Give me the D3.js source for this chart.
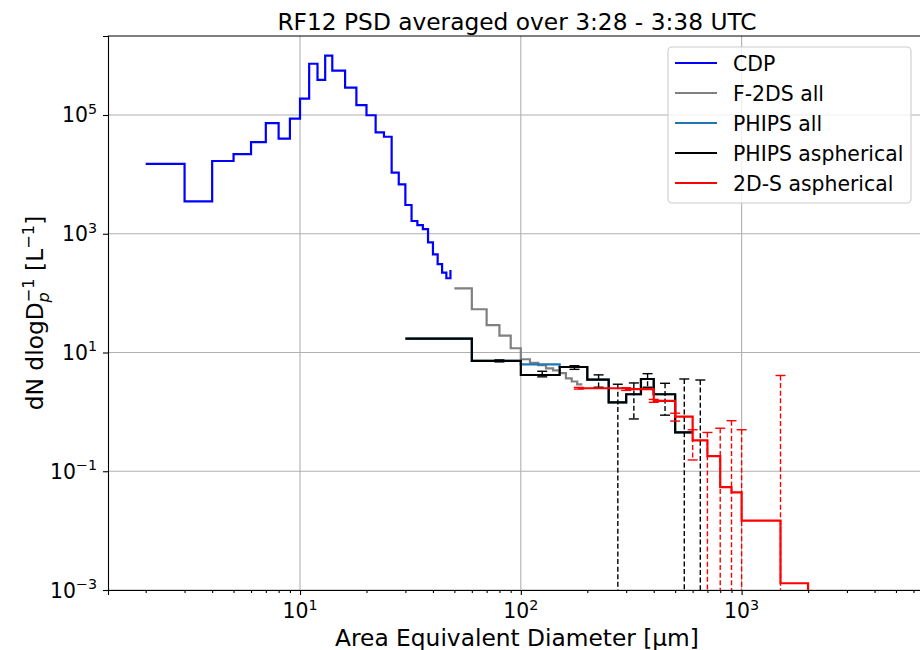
<!DOCTYPE html>
<html><head><meta charset="utf-8">
<script src="https://cdn.jsdelivr.net/npm/d3@7"></script>
<style>
body{margin:0;background:#fff}
svg{display:block}
text{font-family:"DejaVu Sans",sans-serif;fill:#000}
</style>
</head><body>
<svg id="chart" width="920" height="650"></svg>
<script>
// ---------------- data ----------------
const cdpD = [2,3,4,5,6,7,8,9,10,11,12,13,14,16,18,20,22,24,26,28,30,32,34,36,38,40,42,44,46,48];
const cdpN = [1.5e4,3.5e3,1.68e4,2.2e4,3.5e4,7.3e4,4.0e4,8.7e4,1.88e5,7.3e5,3.9e5,1.0e6,5.6e5,2.9e5,1.47e5,9.9e4,5.1e4,4.3e4,1.07e4,6.8e3,3.05e3,1.64e3,1.40e3,1.20e3,718,451,309,221,178,245];

const f2dsD = [50,60,70,80,90,100,110,120,130,140,150,160,170,180,190];
const f2dsN = [120,53.5,29,19.2,11.8,7.7,6.7,6.1,5.4,5.0,4.5,3.67,3.25,2.9,2.9];

const phipsD = [30,60,100,150,200,250,300,350,400,500,600];
const phipsAllN  = [17.1,7.2,6.3,5.7,3.5,1.45,1.98,3.58,1.98,0.45,0.45];
const phipsAsphN = [17.1,7.2,4.18,5.7,3.5,1.45,1.98,3.58,1.98,0.45,0.45];

const phipsErrD  = [80,125,175,225,275,325,375,450,550,650];
const phipsErrHi = [7.5,4.83,6.0,4.2,2.92,3.07,4.4,3.03,3.58,3.44];
const phipsErrLo = [6.95,3.89,5.2,2.6,0,0.76,2.6,0.88,0,0];

const twodsD = [183,300,400,500,600,700,800,900,1000,1500,2000];
const twodsN = [2.5,2.42,1.53,0.83,0.33,0.18,0.054,0.044,0.0147,0.0013,0];

const twodsErrD  = [183,300,400,500,600,700,800,900,1000,1500];
const twodsErrHi = [2.58,2.55,1.62,0.95,0.5,0.45,0.53,0.71,0.5,4.1];
const twodsErrLo = [2.42,2.3,1.45,0.70,0.155,0,0,0,0,0];

const xMajor = [10,100,1000];
const yMajor = [1e-3,1e-1,1e1,1e3,1e5];

const seriesNames  = ["CDP","F-2DS all","PHIPS all","PHIPS aspherical","2D-S aspherical"];
const seriesColors = ["#0000ff","#808080","#1f77b4","#000000","#ff0000"];

const titleText = "RF12 PSD averaged over 3:28 - 3:38 UTC";
const xLabelText = "Area Equivalent Diameter [\u03bcm]";

// ---------------- layout ----------------
const L = 108, R = 926, T = 36, B = 590;
const FS = 20.4, SUP = 14.3, LFS = 23.3, LSUP = 16.3;
const svg = d3.select("#chart");

const x = d3.scaleLog().domain([1.35, 6840]).range([L, R]);
const y = d3.scaleLog().domain([1e-3, 2.14e6]).range([B, T]);
const yv = v => v > 0 ? y(v) : B + 20;

svg.append("defs").append("clipPath").attr("id","clip")
  .append("rect").attr("x",L).attr("y",T).attr("width",R-L).attr("height",B-T);

// grid
const grid = svg.append("g");
grid.selectAll("line.gx").data(xMajor).join("line")
  .attr("x1",d=>x(d)).attr("x2",d=>x(d)).attr("y1",T).attr("y2",B)
  .attr("stroke","#b0b0b0").attr("stroke-width",1.1);
grid.selectAll("line.gy").data(yMajor).join("line")
  .attr("x1",L).attr("x2",R).attr("y1",d=>y(d)).attr("y2",d=>y(d))
  .attr("stroke","#b0b0b0").attr("stroke-width",1.1);

// minor x ticks
const xMinor = [];
for (let k = 0; k <= 3; k++) for (let m = 2; m <= 9; m++) {
  const v = m * Math.pow(10,k);
  if (v >= x.domain()[0] && v <= x.domain()[1]) xMinor.push(v);
}

const plot = svg.append("g").attr("clip-path","url(#clip)");
const line = d3.line().x(d=>x(d[0])).y(d=>yv(d[1])).curve(d3.curveStepAfter);

function stepSeries(D, N, color){
  plot.append("path").datum(D.map((d,i)=>[d,N[i]]))
    .attr("d", line).attr("fill","none").attr("stroke",color)
    .attr("stroke-width",2.2).attr("stroke-linejoin","miter");
}
function errorBars(D, Hi, Lo, color){
  const g = plot.append("g");
  D.forEach((d,i)=>{
    const cx = x(d), yh = y(Hi[i]), yl = Lo[i] > 0 ? y(Lo[i]) : B + 20;
    g.append("line").attr("x1",cx).attr("x2",cx).attr("y1",yh).attr("y2",yl)
      .attr("stroke",color).attr("stroke-width",1.4).attr("stroke-dasharray","5,2.6");
    g.append("line").attr("x1",cx-5).attr("x2",cx+5).attr("y1",yh).attr("y2",yh)
      .attr("stroke",color).attr("stroke-width",1.4);
    if (Lo[i] > 0) g.append("line").attr("x1",cx-5).attr("x2",cx+5).attr("y1",yl).attr("y2",yl)
      .attr("stroke",color).attr("stroke-width",1.4);
  });
}

stepSeries(cdpD, cdpN, seriesColors[0]);
stepSeries(f2dsD, f2dsN, seriesColors[1]);
stepSeries(phipsD, phipsAllN, seriesColors[2]);
stepSeries(phipsD, phipsAsphN, seriesColors[3]);
errorBars(phipsErrD, phipsErrHi, phipsErrLo, seriesColors[3]);
stepSeries(twodsD, twodsN, seriesColors[4]);
errorBars(twodsErrD, twodsErrHi, twodsErrLo, seriesColors[4]);

// axes (spines + ticks)
const gx = svg.append("g").attr("transform",`translate(0,${B})`)
  .call(d3.axisBottom(x).tickValues(xMajor).tickSize(5).tickFormat(""));
const gxm = svg.append("g").attr("transform",`translate(0,${B})`)
  .call(d3.axisBottom(x).tickValues(xMinor).tickSize(3).tickFormat(""));
gxm.select(".domain").remove();
const gy = svg.append("g").attr("transform",`translate(${L},0)`)
  .call(d3.axisLeft(y).tickValues(yMajor).tickSize(5).tickFormat(""));
[gx,gxm,gy].forEach(g=>{
  g.selectAll(".tick line").attr("stroke","#000").attr("stroke-width",1.1);
  g.select(".domain").attr("stroke","#000").attr("stroke-width",1.1);
});
// top spine
svg.append("line").attr("x1",L).attr("x2",R).attr("y1",T).attr("y2",T)
  .attr("stroke","#000").attr("stroke-width",1.1);

function expLabel(sel, v){
  const e = Math.round(Math.log10(v));
  sel.append("tspan").text("10");
  sel.append("tspan").attr("font-size",SUP).attr("dy",-8.5).text(e < 0 ? "\u2212"+(-e) : ""+e);
}
xMajor.forEach(v=>{
  const t = svg.append("text").attr("x",x(v)).attr("y",618)
    .attr("text-anchor","middle").attr("font-size",FS);
  expLabel(t, v);
});
yMajor.forEach(v=>{
  const t = svg.append("text").attr("x",97).attr("y",y(v)+7.5)
    .attr("text-anchor","end").attr("font-size",FS);
  expLabel(t, v);
});

// title and labels
svg.append("text").attr("x",(L+R)/2).attr("y",30).attr("text-anchor","middle")
  .attr("font-size",23.3).text(titleText);
svg.append("text").attr("x",(L+R)/2).attr("y",646).attr("text-anchor","middle")
  .attr("font-size",LFS).text(xLabelText);

const yl = svg.append("text").attr("transform",`translate(43,${(T+B)/2}) rotate(-90)`)
  .attr("text-anchor","middle").attr("font-size",LFS);
yl.append("tspan").text("dN dlogD");
yl.append("tspan").attr("font-size",LSUP).attr("font-style","italic").attr("dy",6).text("p");
yl.append("tspan").attr("font-size",LSUP).attr("dx",-10.3).attr("dy",-15.5).text("\u22121");
yl.append("tspan").attr("dy",9.5).text(" [L");
yl.append("tspan").attr("font-size",LSUP).attr("dy",-9.5).text("\u22121");
yl.append("tspan").attr("dy",9.5).text("]");

// legend
const lg = svg.append("g");
lg.append("rect").attr("x",668).attr("y",47).attr("width",243).attr("height",156)
  .attr("rx",4).attr("fill","#fff").attr("fill-opacity",0.8)
  .attr("stroke","#cccccc").attr("stroke-width",1.1);
seriesNames.forEach((n,i)=>{
  const cy = 63 + i*30;
  lg.append("line").attr("x1",675).attr("x2",717).attr("y1",cy).attr("y2",cy)
    .attr("stroke",seriesColors[i]).attr("stroke-width",2.2);
  lg.append("text").attr("x",733).attr("y",cy+7.5).attr("font-size",FS).text(n);
});
</script>
</body></html>
